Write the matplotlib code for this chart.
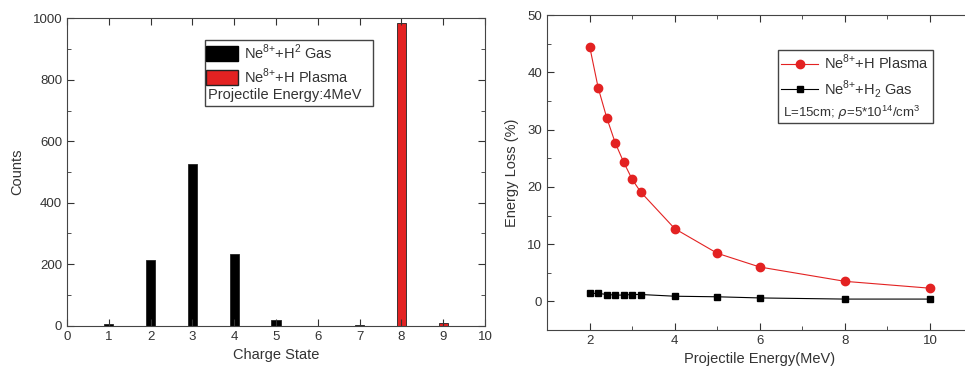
import matplotlib.pyplot as plt
from matplotlib.patches import Rectangle
from matplotlib.ticker import MultipleLocator

plt.rcParams['font.family'] = ['Liberation Sans', 'DejaVu Sans']
plt.rcParams['text.color'] = '#333333'
plt.rcParams['axes.labelcolor'] = '#333333'
plt.rcParams['xtick.color'] = '#333333'
plt.rcParams['ytick.color'] = '#333333'
plt.rcParams['mathtext.fontset'] = 'custom'
plt.rcParams['mathtext.rm'] = 'Liberation Sans'

RED = '#e32222'

# left panel: charge state distribution at 4 MeV
gas_states = [1, 2, 3, 4, 5, 7]
gas_counts = [5, 215, 527, 232, 20, 2]
plasma_states = [8, 9]
plasma_counts = [985, 10]

# right panel: energy loss vs projectile energy
energy = [2, 2.2, 2.4, 2.6, 2.8, 3.0, 3.2, 4, 5, 6, 8, 10]
loss_plasma = [44.5, 37.3, 32.1, 27.7, 24.3, 21.3, 19.1, 12.7, 8.4, 6.0, 3.5, 2.3]
loss_gas = [1.4, 1.4, 1.2, 1.1, 1.1, 1.2, 1.2, 0.9, 0.8, 0.6, 0.4, 0.4]

fig = plt.figure(figsize=(9.65, 3.77), dpi=100)

def style(ax):
    ax.tick_params(which='both', direction='in', top=True, right=True, labelsize=9.5)
    ax.tick_params(which='major', length=5)
    ax.tick_params(which='minor', length=3)
    for s in ax.spines.values():
        s.set_color('#444444')

# ---- left
ax1 = fig.add_axes([0.0694, 0.136, 0.4332, 0.8155])
ax1.bar(gas_states, gas_counts, width=0.22, color='black', edgecolor='#222222', linewidth=0.6)
ax1.bar(plasma_states, plasma_counts, width=0.22, color=RED, edgecolor='#222222', linewidth=0.6)
ax1.set_xlim(0, 10)
ax1.set_ylim(0, 1000)
ax1.xaxis.set_major_locator(MultipleLocator(1))
ax1.yaxis.set_major_locator(MultipleLocator(200))
ax1.yaxis.set_minor_locator(MultipleLocator(100))
style(ax1)
ax1.set_xlabel('Charge State', fontsize=10.5)
ax1.set_ylabel('Counts', fontsize=10.5, labelpad=6)

ax1.add_patch(Rectangle((0.330, 0.715), 0.402, 0.214, transform=ax1.transAxes,
                        fill=False, edgecolor='#444444', linewidth=1, zorder=5))
h1 = [Rectangle((0, 0), 1, 1, color='black'), Rectangle((0, 0), 1, 1, color=RED, ec='#222222')]
ax1.legend(h1, ['Ne$^{8{+}}$+H$^{2}$ Gas', 'Ne$^{8{+}}$+H Plasma'], frameon=False,
           loc='upper left', bbox_to_anchor=(0.318, 0.94), fontsize=10.5,
           handlelength=2.2, handleheight=1.2, handletextpad=0.4, labelspacing=0.3,
           borderaxespad=0)
ax1.text(0.337, 0.752, 'Projectile Energy:4MeV', transform=ax1.transAxes,
         fontsize=10.5, va='center', ha='left')

# ---- right
ax2 = fig.add_axes([0.567, 0.1247, 0.4408, 0.835])
ax2.plot(energy, loss_plasma, '-o', color=RED, lw=0.8, ms=6, label='Ne$^{8{+}}$+H Plasma')
ax2.plot(energy, loss_gas, '-s', color='black', lw=0.8, ms=5, label='Ne$^{8{+}}$+H$_{2}$ Gas')
ax2.set_xlim(1, 11)
ax2.set_ylim(-5, 50)
ax2.xaxis.set_major_locator(MultipleLocator(2))
ax2.xaxis.set_minor_locator(MultipleLocator(1))
ax2.yaxis.set_major_locator(MultipleLocator(10))
ax2.yaxis.set_minor_locator(MultipleLocator(5))
style(ax2)
ax2.set_xlabel('Projectile Energy(MeV)', fontsize=10.5)
ax2.set_ylabel('Energy Loss (%)', fontsize=10.5, labelpad=6)

ax2.add_patch(Rectangle((0.5425, 0.657), 0.3645, 0.232, transform=ax2.transAxes,
                        fill=False, edgecolor='#444444', linewidth=1, zorder=5))
ax2.legend(frameon=False, loc='upper left', bbox_to_anchor=(0.535, 0.9), fontsize=10.5,
           handlelength=2.6, handletextpad=0.4, labelspacing=0.4, borderaxespad=0)
ax2.text(0.555, 0.69, r'L=15cm; $\rho$=5*10$^{14}$/cm$^{3}$', transform=ax2.transAxes,
         fontsize=9.5, va='center', ha='left')

fig.savefig('out.png', dpi=100)
